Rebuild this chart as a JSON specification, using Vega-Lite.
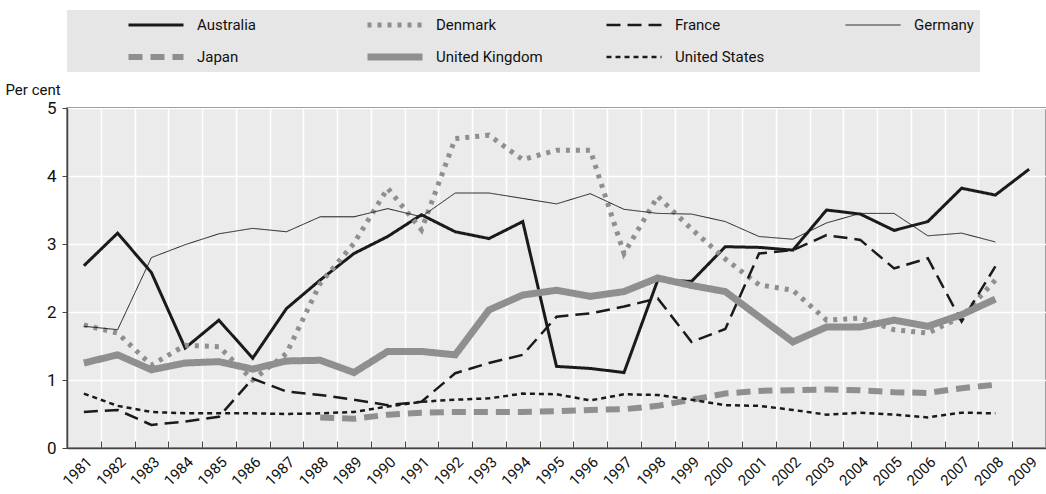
{
  "$schema": "https://vega.github.io/schema/vega-lite/v6.json",
  "width": 979,
  "height": 340,
  "autosize": {"type": "none"},
  "padding": {"left": 67, "top": 108, "right": 0, "bottom": 46},
  "background": "white",
  "config": {
    "font": "Roboto",
    "view": {"fill": "#ebebeb", "stroke": "#555555", "strokeWidth": 1.5}
  },
  "datasets": {
    "d": [
      {"year":"1981","country":"Australia","value":2.68},{"year":"1982","country":"Australia","value":3.16},{"year":"1983","country":"Australia","value":2.58},{"year":"1984","country":"Australia","value":1.47},{"year":"1985","country":"Australia","value":1.88},{"year":"1986","country":"Australia","value":1.32},{"year":"1987","country":"Australia","value":2.05},{"year":"1988","country":"Australia","value":2.47},{"year":"1989","country":"Australia","value":2.86},{"year":"1990","country":"Australia","value":3.11},{"year":"1991","country":"Australia","value":3.43},{"year":"1992","country":"Australia","value":3.18},{"year":"1993","country":"Australia","value":3.08},{"year":"1994","country":"Australia","value":3.33},{"year":"1995","country":"Australia","value":1.2},{"year":"1996","country":"Australia","value":1.17},{"year":"1997","country":"Australia","value":1.11},{"year":"1998","country":"Australia","value":2.47},{"year":"1999","country":"Australia","value":2.45},{"year":"2000","country":"Australia","value":2.96},{"year":"2001","country":"Australia","value":2.95},{"year":"2002","country":"Australia","value":2.91},{"year":"2003","country":"Australia","value":3.5},{"year":"2004","country":"Australia","value":3.44},{"year":"2005","country":"Australia","value":3.2},{"year":"2006","country":"Australia","value":3.33},{"year":"2007","country":"Australia","value":3.82},{"year":"2008","country":"Australia","value":3.72},{"year":"2009","country":"Australia","value":4.1},
      {"year":"1981","country":"Denmark","value":1.81},{"year":"1982","country":"Denmark","value":1.69},{"year":"1983","country":"Denmark","value":1.22},{"year":"1984","country":"Denmark","value":1.51},{"year":"1985","country":"Denmark","value":1.49},{"year":"1986","country":"Denmark","value":1.0},{"year":"1987","country":"Denmark","value":1.39},{"year":"1988","country":"Denmark","value":2.42},{"year":"1989","country":"Denmark","value":3.01},{"year":"1990","country":"Denmark","value":3.82},{"year":"1991","country":"Denmark","value":3.21},{"year":"1992","country":"Denmark","value":4.55},{"year":"1993","country":"Denmark","value":4.6},{"year":"1994","country":"Denmark","value":4.24},{"year":"1995","country":"Denmark","value":4.38},{"year":"1996","country":"Denmark","value":4.38},{"year":"1997","country":"Denmark","value":2.86},{"year":"1998","country":"Denmark","value":3.7},{"year":"1999","country":"Denmark","value":3.22},{"year":"2000","country":"Denmark","value":2.78},{"year":"2001","country":"Denmark","value":2.4},{"year":"2002","country":"Denmark","value":2.32},{"year":"2003","country":"Denmark","value":1.88},{"year":"2004","country":"Denmark","value":1.91},{"year":"2005","country":"Denmark","value":1.74},{"year":"2006","country":"Denmark","value":1.69},{"year":"2007","country":"Denmark","value":1.93},{"year":"2008","country":"Denmark","value":2.47},
      {"year":"1981","country":"France","value":0.53},{"year":"1982","country":"France","value":0.56},{"year":"1983","country":"France","value":0.34},{"year":"1984","country":"France","value":0.39},{"year":"1985","country":"France","value":0.46},{"year":"1986","country":"France","value":1.02},{"year":"1987","country":"France","value":0.83},{"year":"1988","country":"France","value":0.78},{"year":"1989","country":"France","value":0.71},{"year":"1990","country":"France","value":0.63},{"year":"1991","country":"France","value":0.68},{"year":"1992","country":"France","value":1.1},{"year":"1993","country":"France","value":1.25},{"year":"1994","country":"France","value":1.37},{"year":"1995","country":"France","value":1.93},{"year":"1996","country":"France","value":1.98},{"year":"1997","country":"France","value":2.08},{"year":"1998","country":"France","value":2.2},{"year":"1999","country":"France","value":1.56},{"year":"2000","country":"France","value":1.75},{"year":"2001","country":"France","value":2.86},{"year":"2002","country":"France","value":2.91},{"year":"2003","country":"France","value":3.13},{"year":"2004","country":"France","value":3.06},{"year":"2005","country":"France","value":2.64},{"year":"2006","country":"France","value":2.79},{"year":"2007","country":"France","value":1.86},{"year":"2008","country":"France","value":2.67},
      {"year":"1981","country":"Germany","value":1.79},{"year":"1982","country":"Germany","value":1.74},{"year":"1983","country":"Germany","value":2.8},{"year":"1984","country":"Germany","value":2.99},{"year":"1985","country":"Germany","value":3.15},{"year":"1986","country":"Germany","value":3.23},{"year":"1987","country":"Germany","value":3.18},{"year":"1988","country":"Germany","value":3.4},{"year":"1989","country":"Germany","value":3.4},{"year":"1990","country":"Germany","value":3.52},{"year":"1991","country":"Germany","value":3.4},{"year":"1992","country":"Germany","value":3.75},{"year":"1993","country":"Germany","value":3.75},{"year":"1994","country":"Germany","value":3.67},{"year":"1995","country":"Germany","value":3.59},{"year":"1996","country":"Germany","value":3.74},{"year":"1997","country":"Germany","value":3.51},{"year":"1998","country":"Germany","value":3.45},{"year":"1999","country":"Germany","value":3.44},{"year":"2000","country":"Germany","value":3.33},{"year":"2001","country":"Germany","value":3.11},{"year":"2002","country":"Germany","value":3.07},{"year":"2003","country":"Germany","value":3.31},{"year":"2004","country":"Germany","value":3.45},{"year":"2005","country":"Germany","value":3.45},{"year":"2006","country":"Germany","value":3.12},{"year":"2007","country":"Germany","value":3.16},{"year":"2008","country":"Germany","value":3.03},
      {"year":"1988","country":"Japan","value":0.45},{"year":"1989","country":"Japan","value":0.43},{"year":"1990","country":"Japan","value":0.49},{"year":"1991","country":"Japan","value":0.52},{"year":"1992","country":"Japan","value":0.53},{"year":"1993","country":"Japan","value":0.53},{"year":"1994","country":"Japan","value":0.53},{"year":"1995","country":"Japan","value":0.54},{"year":"1996","country":"Japan","value":0.56},{"year":"1997","country":"Japan","value":0.57},{"year":"1998","country":"Japan","value":0.62},{"year":"1999","country":"Japan","value":0.71},{"year":"2000","country":"Japan","value":0.8},{"year":"2001","country":"Japan","value":0.84},{"year":"2002","country":"Japan","value":0.85},{"year":"2003","country":"Japan","value":0.86},{"year":"2004","country":"Japan","value":0.85},{"year":"2005","country":"Japan","value":0.82},{"year":"2006","country":"Japan","value":0.81},{"year":"2007","country":"Japan","value":0.88},{"year":"2008","country":"Japan","value":0.93},
      {"year":"1981","country":"United Kingdom","value":1.25},{"year":"1982","country":"United Kingdom","value":1.37},{"year":"1983","country":"United Kingdom","value":1.15},{"year":"1984","country":"United Kingdom","value":1.25},{"year":"1985","country":"United Kingdom","value":1.27},{"year":"1986","country":"United Kingdom","value":1.16},{"year":"1987","country":"United Kingdom","value":1.28},{"year":"1988","country":"United Kingdom","value":1.29},{"year":"1989","country":"United Kingdom","value":1.11},{"year":"1990","country":"United Kingdom","value":1.42},{"year":"1991","country":"United Kingdom","value":1.42},{"year":"1992","country":"United Kingdom","value":1.37},{"year":"1993","country":"United Kingdom","value":2.03},{"year":"1994","country":"United Kingdom","value":2.25},{"year":"1995","country":"United Kingdom","value":2.32},{"year":"1996","country":"United Kingdom","value":2.23},{"year":"1997","country":"United Kingdom","value":2.3},{"year":"1998","country":"United Kingdom","value":2.5},{"year":"1999","country":"United Kingdom","value":2.39},{"year":"2000","country":"United Kingdom","value":2.3},{"year":"2001","country":"United Kingdom","value":1.93},{"year":"2002","country":"United Kingdom","value":1.56},{"year":"2003","country":"United Kingdom","value":1.78},{"year":"2004","country":"United Kingdom","value":1.78},{"year":"2005","country":"United Kingdom","value":1.88},{"year":"2006","country":"United Kingdom","value":1.79},{"year":"2007","country":"United Kingdom","value":1.96},{"year":"2008","country":"United Kingdom","value":2.19},
      {"year":"1981","country":"United States","value":0.8},{"year":"1982","country":"United States","value":0.62},{"year":"1983","country":"United States","value":0.53},{"year":"1984","country":"United States","value":0.51},{"year":"1985","country":"United States","value":0.51},{"year":"1986","country":"United States","value":0.51},{"year":"1987","country":"United States","value":0.5},{"year":"1988","country":"United States","value":0.51},{"year":"1989","country":"United States","value":0.53},{"year":"1990","country":"United States","value":0.61},{"year":"1991","country":"United States","value":0.68},{"year":"1992","country":"United States","value":0.71},{"year":"1993","country":"United States","value":0.73},{"year":"1994","country":"United States","value":0.8},{"year":"1995","country":"United States","value":0.79},{"year":"1996","country":"United States","value":0.7},{"year":"1997","country":"United States","value":0.79},{"year":"1998","country":"United States","value":0.78},{"year":"1999","country":"United States","value":0.71},{"year":"2000","country":"United States","value":0.63},{"year":"2001","country":"United States","value":0.62},{"year":"2002","country":"United States","value":0.56},{"year":"2003","country":"United States","value":0.49},{"year":"2004","country":"United States","value":0.52},{"year":"2005","country":"United States","value":0.49},{"year":"2006","country":"United States","value":0.45},{"year":"2007","country":"United States","value":0.52},{"year":"2008","country":"United States","value":0.51}
    ]
  },
  "data": {"name": "d"},
  "mark": {"type": "line", "strokeCap": "butt", "strokeJoin": "miter"},
  "encoding": {
    "x": {
      "field": "year", "type": "ordinal",
      "scale": {"type": "band", "paddingInner": 0, "paddingOuter": 0, "domain": ["1981","1982","1983","1984","1985","1986","1987","1988","1989","1990","1991","1992","1993","1994","1995","1996","1997","1998","1999","2000","2001","2002","2003","2004","2005","2006","2007","2008","2009"]},
      "axis": {
        "title": null, "tickBand": "extent", "grid": true, "gridColor": "white", "gridWidth": 1.5,
        "domainColor": "#444444", "domainWidth": 1.5, "tickColor": "#444444", "tickSize": -7, "tickWidth": 1,
        "labelAngle": -45, "labelAlign": "right", "labelBaseline": "top", "labelFontSize": 15, "labelColor": "#111111", "labelPadding": 13
      }
    },
    "y": {
      "field": "value", "type": "quantitative",
      "scale": {"domain": [0, 5], "nice": false, "zero": true},
      "axis": {
        "values": [0,1,2,3,4,5], "grid": true, "gridColor": "white", "gridWidth": 1.5,
        "domainColor": "#444444", "domainWidth": 1.5, "tickColor": "#444444", "tickSize": 5,
        "labelFontSize": 17, "labelColor": "#111111", "labelPadding": 6,
        "title": "Per cent", "titleAngle": 0, "titleAlign": "left", "titleBaseline": "alphabetic",
        "titleX": -62, "titleY": -14, "titleFontSize": 15, "titleFontWeight": "normal", "titleColor": "#111111"
      }
    },
    "color": {
      "field": "country", "type": "nominal",
      "scale": {"domain": ["Australia","Denmark","France","Germany","Japan","United Kingdom","United States"],
                "range": ["#1a1a1a","#8f8f8f","#1a1a1a","#1a1a1a","#8f8f8f","#8f8f8f","#1a1a1a"]},
      "legend": {
        "title": null, "orient": "none", "direction": "horizontal", "legendX": 0, "legendY": -98, "columns": 4, "gridAlign": "all",
        "fillColor": "#e6e6e6", "padding": 6, "columnPadding": 8, "rowPadding": 14, "clipHeight": 18,
        "symbolType": "stroke", "symbolSize": 3025, "symbolOffset": 52,
        "labelFontSize": 15, "labelColor": "#111111", "labelOffset": 10
      }
    },
    "strokeDash": {
      "field": "country", "type": "nominal",
      "scale": {"domain": ["Australia","Denmark","France","Germany","Japan","United Kingdom","United States"],
                "range": [[1,0],[4,6],[14,7],[1,0],[14,8],[1,0],[5,4]]},
      "legend": null
    },
    "strokeWidth": {
      "field": "country", "type": "nominal",
      "scale": {"type": "ordinal", "domain": ["Australia","Denmark","France","Germany","Japan","United Kingdom","United States"],
                "range": [3, 5, 2.5, 1, 6, 7, 2.5]},
      "legend": null
    }
  }
}
